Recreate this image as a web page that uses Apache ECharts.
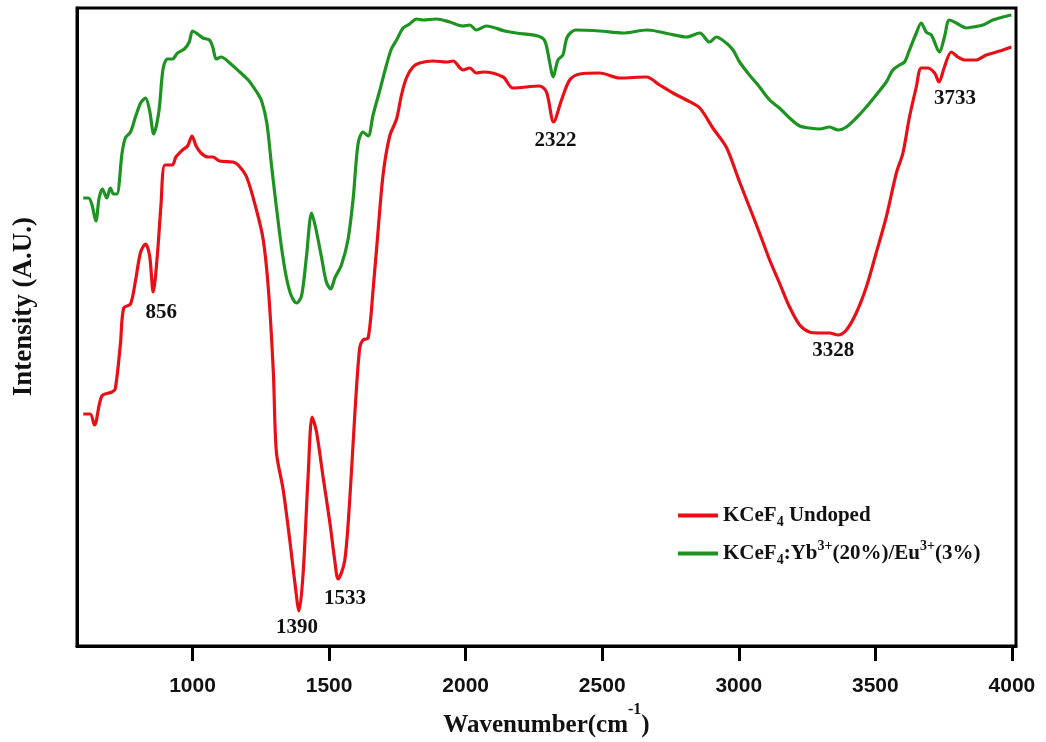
<!DOCTYPE html>
<html>
<head>
<meta charset="utf-8">
<script src="https://cdn.jsdelivr.net/npm/echarts@6/dist/echarts.min.js"></script>
<style>html,body{margin:0;padding:0;background:#fff}#c{width:1046px;height:742px}</style>
</head>
<body>
<div id="c"></div>
<script>
// ---- data (wavenumber cm^-1, intensity in arbitrary units) ----
const seriesNames = ['KCeF4 Undoped', 'KCeF4:Yb3+(20%)/Eu3+(3%)'];
const xTickValues = [1000, 1500, 2000, 2500, 3000, 3500, 4000];
const redUndoped = [
[600,232],[625,232],[641,221],[668,250],[705,254],[717,257],[736,302],[748,338],[773,342],[791,365],[810,394],[828,402],[843,390],[856,354],[871,390],[884,439],[899,481],[926,481],[939,489],[963,496],[982,500],[998,510],[1013,500],[1031,493],[1056,489],[1074,489],[1099,485],[1148,484],[1167,481],[1198,469],[1235,435],[1259,406],[1278,356],[1296,273],[1307,194],[1332,156],[1356,106],[1374,65],[1390,35],[1405,73],[1423,169],[1438,229],[1454,214],[1478,169],[1503,123],[1521,85],[1533,67],[1557,85],[1576,148],[1594,231],[1612,298],[1624,306],[1643,308],[1661,356],[1679,414],[1698,472],[1722,510],[1747,527],[1765,551],[1783,568],[1807,579],[1832,583],[1881,585],[1930,584],[1954,585],[1990,576],[2015,578],[2039,573],[2064,574],[2137,569],[2173,558],[2271,560],[2296,554],[2322,524],[2351,546],[2381,566],[2418,572],[2491,573],[2564,568],[2662,569],[2710,561],[2759,553],[2808,546],[2857,538],[2905,518],[2954,499],[2991,473],[3003,464],[3039,439],[3076,413],[3113,386],[3149,363],[3186,339],[3223,321],[3259,314],[3296,313],[3332,313],[3363,311],[3394,316],[3430,333],[3467,359],[3503,393],[3540,429],[3577,473],[3601,493],[3625,529],[3650,559],[3668,578],[3692,578],[3717,573],[3733,564],[3753,579],[3778,594],[3802,589],[3827,586],[3869,586],[3906,591],[3943,594],[3967,596],[3998,599]
];
const greenDoped = [
[600,448],[619,448],[631,442],[646,425],[658,448],[670,457],[686,448],[699,458],[711,452],[723,452],[742,493],[754,508],[773,514],[791,529],[810,543],[828,548],[843,535],[858,512],[877,535],[892,577],[908,587],[926,587],[945,593],[970,597],[988,604],[1000,615],[1019,612],[1038,608],[1062,606],[1074,599],[1087,587],[1105,589],[1136,583],[1173,574],[1204,566],[1235,554],[1253,545],[1272,523],[1289,481],[1307,439],[1326,398],[1344,368],[1362,350],[1381,343],[1399,350],[1417,389],[1436,433],[1451,418],[1472,389],[1490,364],[1506,357],[1521,368],[1545,381],[1569,406],[1588,447],[1606,502],[1624,514],[1643,510],[1661,531],[1686,556],[1710,581],[1728,597],[1747,606],[1771,618],[1795,622],[1820,627],[1844,626],[1893,627],[1942,624],[1990,620],[2015,621],[2039,616],[2076,620],[2143,615],[2186,613],[2264,610],[2290,605],[2308,583],[2320,569],[2338,586],[2356,591],[2372,609],[2403,616],[2491,615],[2576,613],[2666,616],[2747,612],[2808,609],[2857,613],[2893,604],[2918,609],[2954,603],[2979,596],[3003,584],[3039,571],[3076,559],[3113,546],[3149,538],[3186,528],[3223,520],[3259,518],[3296,517],[3332,519],[3363,516],[3394,519],[3430,528],[3467,539],[3503,551],[3540,564],[3564,576],[3589,581],[3607,584],[3625,596],[3650,613],[3668,623],[3686,614],[3705,611],[3735,594],[3753,609],[3771,626],[3796,623],[3833,618],[3857,619],[3894,621],[3930,626],[3967,629],[3998,631]
];
// peak annotations on the undoped curve: [label wavenumber, intensity at the dip]
const peakLabels = ['856', '1390', '1533', '2322', '3328', '3733'];
const peakPoints = [[856,354],[1390,35],[1533,67],[2322,524],[3328,313],[3733,564]];

// ---- chart ----
const RED = '#e80f16', GREEN = '#1d9321';
const SERIF = '"Liberation Serif","Times New Roman",serif';
const SANS = '"Liberation Sans",Arial,sans-serif';
const labelOffsets = [[8,21],[-2,17],[7,20],[2,19],[5,18],[16,17]];

const chart = echarts.init(document.getElementById('c'), null, {renderer:'canvas'});

const richLegend = {
  b: {fontFamily: SERIF, fontWeight: 'bold', fontSize: 21, color: '#111', lineHeight: 28, verticalAlign: 'middle'},
  sub: {fontFamily: SERIF, fontWeight: 'bold', fontSize: 14, color: '#111', lineHeight: 26, verticalAlign: 'bottom'},
  sup: {fontFamily: SERIF, fontWeight: 'bold', fontSize: 14, color: '#111', lineHeight: 28, verticalAlign: 'top'}
};

chart.setOption({
  animation: false,
  backgroundColor: '#fff',
  grid: {left: 77, right: 30, top: 8, bottom: 96, show: true, borderColor: '#000', borderWidth: 3,
    backgroundColor: 'transparent', outerBoundsMode: 'none', containLabel: false},
  xAxis: {
    type: 'value', min: 577, max: 4015,
    axisLine: {show: true, onZero: false, lineStyle: {color: '#000', width: 3}},
    axisTick: {show: true, inside: false, length: 15, lineStyle: {color: '#000', width: 3}, customValues: xTickValues},
    axisLabel: {show: true, margin: 30, fontFamily: SANS, fontWeight: 'bold', fontSize: 21, color: '#111',
      customValues: xTickValues, formatter: function (v) { return String(v); }},
    splitLine: {show: false},
    name: '{a|Wavenumber(cm}{s|-1}{a|)}',
    nameLocation: 'middle', nameGap: 56,
    nameTextStyle: {
      rich: {
        a: {fontFamily: SERIF, fontWeight: 'bold', fontSize: 25, color: '#111', lineHeight: 36, verticalAlign: 'bottom'},
        s: {fontFamily: SERIF, fontWeight: 'bold', fontSize: 16, color: '#111', lineHeight: 36, verticalAlign: 'top'}
      }
    }
  },
  yAxis: {
    type: 'value', min: 0, max: 638,
    axisLine: {show: true, lineStyle: {color: '#000', width: 3}},
    axisTick: {show: false}, axisLabel: {show: false}, splitLine: {show: false}
  },
  legend: {
    show: true, orient: 'vertical', left: 673, top: 500,
    itemWidth: 40, itemHeight: 4, itemGap: 10, icon: 'rect',
    data: seriesNames,
    formatter: function (name) {
      if (name === seriesNames[0]) return '{b|KCeF}{sub|4}{b| Undoped}';
      return '{b|KCeF}{sub|4}{b|:Yb}{sup|3+}{b|(20%)/Eu}{sup|3+}{b|(3%)}';
    },
    textStyle: {rich: richLegend, padding: [0,0,0,0]}
  },
  graphic: [{
    type: 'text', left: 11, top: 217, rotation: Math.PI / 2,
    style: {text: 'Intensity (A.U.)', fontFamily: SERIF, fontWeight: 'bold', fontSize: 27, fill: '#111'}
  }],
  series: [
    {
      name: seriesNames[0], type: 'line', data: redUndoped, showSymbol: false, smooth: 0.3,
      lineStyle: {color: RED, width: 3.2}, itemStyle: {color: RED},
      markPoint: {
        symbol: 'circle', symbolSize: 1, itemStyle: {color: 'rgba(0,0,0,0)'},
        data: peakPoints.map((p, i) => ({
          coord: p, value: peakLabels[i],
          label: {show: true, position: 'inside', offset: labelOffsets[i], formatter: peakLabels[i],
            fontFamily: SERIF, fontWeight: 'bold', fontSize: 21, color: '#111'}
        }))
      }
    },
    {
      name: seriesNames[1], type: 'line', data: greenDoped, showSymbol: false, smooth: 0.3,
      lineStyle: {color: GREEN, width: 3.2}, itemStyle: {color: GREEN}
    }
  ]
});
</script>
</body>
</html>
